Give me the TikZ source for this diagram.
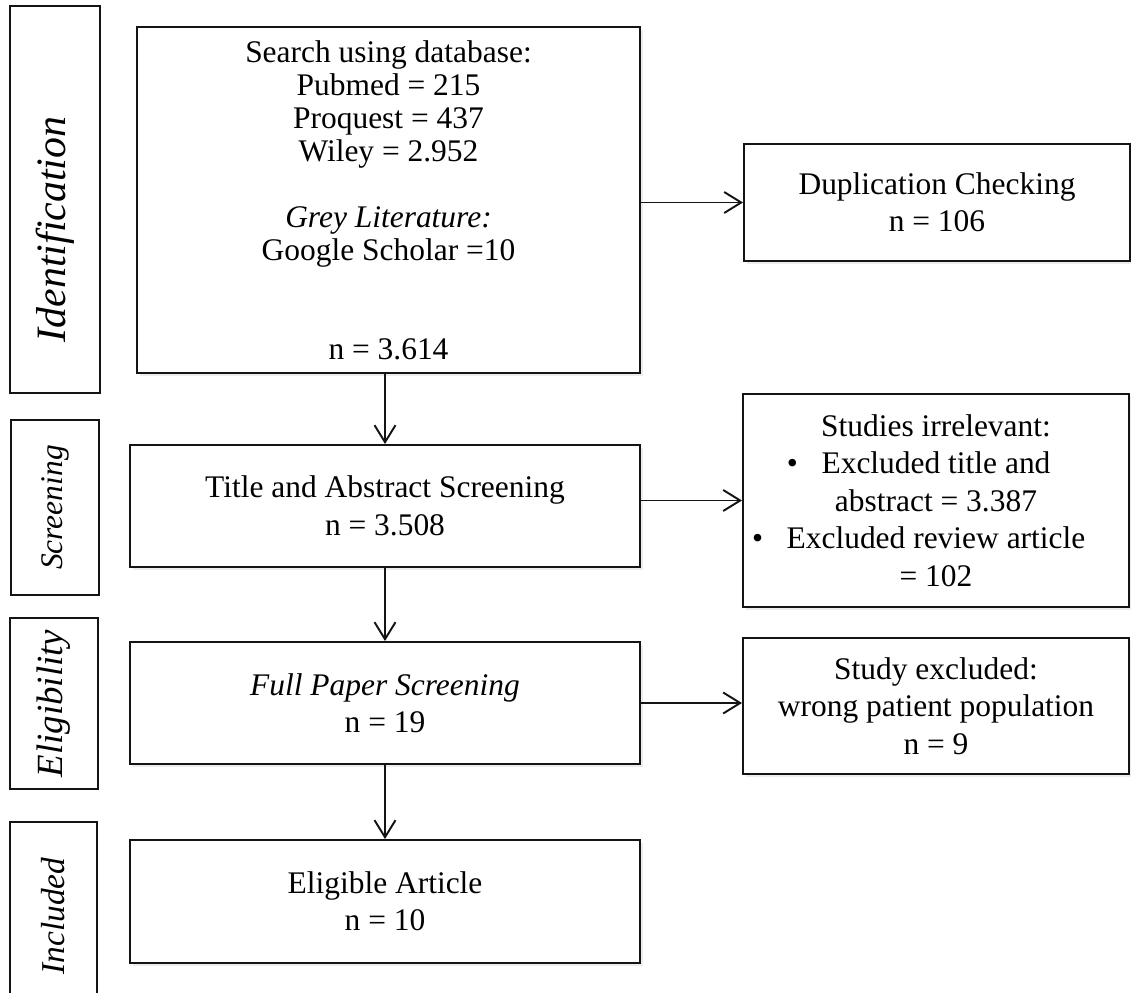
\documentclass[tikz,border=0pt]{standalone}
\usepackage{fontspec}
\setmainfont{Liberation Serif}
\usetikzlibrary{positioning, arrows.meta, shadows}
\usepackage{xcolor}
\definecolor{ink}{RGB}{20,20,20}

\begin{document}
\begin{tikzpicture}[font=\fontsize{17.9}{21.3}\selectfont,
    phase/.style={draw=ink, line width=1.1pt, fill=white, rotate=90,
                  font=\fontsize{17.9}{21.3}\selectfont\itshape, inner sep=0pt},
    stage/.style={draw=ink, line width=1.1pt, fill=white, align=center,
                  inner sep=0pt,
                  drop shadow={opacity=0.15, shadow xshift=0.05cm, shadow yshift=-0.06cm}},
    flowarr/.style={-{Straight Barb[length=0.34cm, width=0.42cm]}, line width=1.1pt, color=ink},
]
\useasboundingbox (0,0) rectangle (22.62,-19.86);

% ─── Phase column on the left ─────────────────────────────────────
% trailing space pushes the rotated word a little below the centre
\node[phase, minimum width=7.74cm, minimum height=1.80cm,
      font=\fontsize{23.8}{26}\selectfont\itshape] (ident) at (1.10,-3.99)
  {Identification\hspace*{1.2cm}\mbox{}};
\node[phase, minimum width=3.50cm, minimum height=1.76cm] (screen) at (1.10,-10.15) {Screening};
\node[phase, minimum width=3.42cm, minimum height=1.76cm,
      font=\fontsize{21}{24}\selectfont\itshape] (elig) at (1.08,-14.07) {Eligibility};
\node[phase, minimum width=3.76cm, minimum height=1.74cm,
      font=\fontsize{19}{22}\selectfont\itshape] (incl) at (1.07,-18.32) {Included};

% ─── Main flow ───────────────────────────────────────────────────
\node[stage, minimum width=10.06cm, minimum height=6.92cm,
      font=\fontsize{17.9}{18.8}\selectfont] (search) at (7.77,-4.00)
  {Search using database:\\ Pubmed = 215\\ Proquest = 437\\ Wiley = 2.952\\[18.8pt]
   \textit{Grey Literature:}\\ Google Scholar =10\\[37.6pt] n = 3.614};
\node[stage, minimum width=10.20cm, minimum height=2.44cm] (title) at (7.70,-10.12)
  {Title and Abstract Screening\\ n = 3.508};
\node[stage, minimum width=10.20cm, minimum height=2.44cm] (full) at (7.70,-14.06)
  {\textit{Full Paper Screening}\\ n = 19};
\node[stage, minimum width=10.20cm, minimum height=2.46cm] (eligart) at (7.70,-18.03)
  {Eligible Article\\ n = 10};

% ─── Exclusions on the right ─────────────────────────────────────
\node[stage, minimum width=7.72cm, minimum height=2.34cm] (dup) at (18.74,-4.05)
  {Duplication Checking\\ n = 106};
% bullets hang left of the centred lines
\node[stage, minimum width=7.72cm, minimum height=4.26cm] (irr) at (18.72,-10.01)
  {Studies irrelevant:\\
   \llap{\textbullet\hspace{0.75em}}Excluded title and\\
   abstract = 3.387\\
   \llap{\textbullet\hspace{0.75em}}Excluded review article\\
   = 102};
\node[stage, minimum width=7.72cm, minimum height=2.72cm] (excl) at (18.72,-14.12)
  {Study excluded:\\ wrong patient population\\ n = 9};

% ─── Edges ───────────────────────────────────────────────────────
\draw[flowarr] (title.north |- search.south) -- (title.north);
\draw[flowarr] (title) -- (full);
\draw[flowarr] (full) -- (eligart);

\draw[flowarr] (dup.west -| search.east) -- (dup.west);
\draw[flowarr] (irr.west -| title.east) -- (irr.west);
\draw[flowarr] (full.east) -- (full.east -| excl.west);

\end{tikzpicture}
\end{document}
